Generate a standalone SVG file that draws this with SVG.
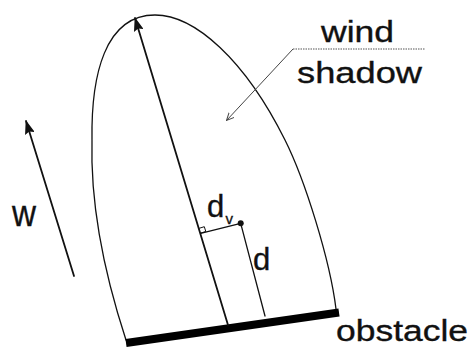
<svg xmlns="http://www.w3.org/2000/svg" width="474" height="347" viewBox="0 0 474 347">
<defs>
<style>
text{font-family:"Liberation Sans",Arial,sans-serif;fill:#111;stroke:#111;stroke-width:0.35}
.ln{fill:none;stroke:#111;stroke-linecap:round}
</style>
<marker id="ah" viewBox="0 0 14 10" refX="13" refY="5" markerWidth="14" markerHeight="10" markerUnits="userSpaceOnUse" orient="auto">
<path d="M0,0 L14,5 L0,10 L2,5 Z" fill="#111"/>
</marker>
<marker id="open" viewBox="0 0 8 8" refX="7.5" refY="4" markerWidth="8" markerHeight="8" markerUnits="userSpaceOnUse" orient="auto">
<path d="M0,0.5 L7.5,4 L0,7.5" fill="none" stroke="#444" stroke-width="1"/>
</marker>
</defs>
<rect width="474" height="347" fill="#fff"/>
<g id="shadow-outline">
<path class="ln" stroke-width="1.3" d="M126,340 C108,285 90,210 92,140 C91,75 105,15 155,15 C195,15 245,60 285,140 C305,180 330,260 336,309"/>
</g>
<g id="obstacle">
<line x1="126" y1="343" x2="339" y2="312.5" stroke="#000" stroke-width="8"/>
<text x="336" y="340.5" font-size="29" textLength="132" lengthAdjust="spacingAndGlyphs">obstacle</text>
</g>
<g id="connectors">
<line class="ln" stroke-width="1.8" x1="228" y1="325" x2="135" y2="18" marker-end="url(#ah)"/>
<line class="ln" stroke-width="1.8" x1="74" y1="276" x2="26" y2="121" marker-end="url(#ah)"/>
<line class="ln" stroke-width="1.3" x1="200.6" y1="233.3" x2="240.7" y2="223.3"/>
<line class="ln" stroke-width="1.3" x1="240.7" y1="223.3" x2="265" y2="316"/>
<path class="ln" stroke-width="1" d="M201,233 L205.8,231.5 L204.3,226.7 L199.5,228.2"/>
<circle cx="240.7" cy="223.3" r="3" fill="#111"/>
<line x1="293" y1="49" x2="226.5" y2="120.5" stroke="#444" stroke-width="1" marker-end="url(#open)"/>
<line x1="293" y1="49" x2="425" y2="49" stroke="#555" stroke-width="1.2" stroke-dasharray="1.5,1"/>
</g>
<g id="label-wind-shadow">
<text x="321" y="42" font-size="30" textLength="73" lengthAdjust="spacingAndGlyphs">wind</text>
<text x="297" y="83" font-size="30" textLength="125" lengthAdjust="spacingAndGlyphs">shadow</text>
</g>
<g id="label-w">
<text x="12" y="226" font-size="37" textLength="24" lengthAdjust="spacingAndGlyphs">w</text>
</g>
<g id="label-dv">
<text x="207" y="216.5" font-size="31">d</text>
<text x="225.5" y="224" font-size="15">v</text>
</g>
<g id="label-d">
<text x="253" y="270" font-size="31">d</text>
</g>
</svg>
